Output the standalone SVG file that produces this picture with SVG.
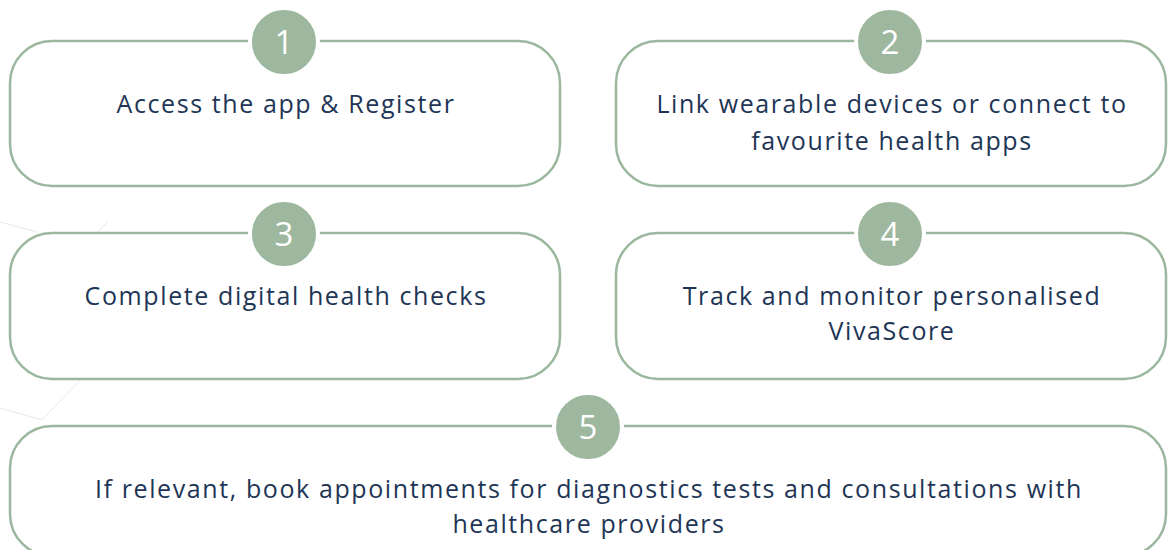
<svg xmlns="http://www.w3.org/2000/svg" width="1170" height="550" viewBox="0 0 1170 550">
<style>
.box{fill:#ffffff;stroke:#9bb89f;stroke-width:2.5}
.badge{fill:#9db89e;stroke:#ffffff;stroke-width:4}
.num{font-family:"Open Sans","Liberation Sans",sans-serif;font-size:33px;fill:#ffffff;text-anchor:middle}
.txt{font-family:"Open Sans","Liberation Sans",sans-serif;font-size:25px;letter-spacing:1.6px;fill:#1e3556;text-anchor:middle}
.bg{fill:none;stroke:#e6e8f4;stroke-width:1}
</style>
<rect width="1170" height="550" fill="#ffffff"/>
<g id="background">
<path class="bg" d="M0 222 L37 232 M108 222 L97 232"/>
<path class="bg" d="M0 408 L42 420 L80 380"/>
</g>
<g id="connectors"></g>
<g id="node1">
<rect class="box" x="10" y="41" width="550" height="145" rx="42"/>
<circle class="badge" cx="284" cy="42" r="34"/>
<text class="num" x="284" y="54">1</text>
<text class="txt" x="286" y="113">Access the app &amp; Register</text>
</g>
<g id="node2">
<rect class="box" x="616" y="41" width="550" height="145" rx="42"/>
<circle class="badge" cx="890" cy="42" r="34"/>
<text class="num" x="890" y="54">2</text>
<text class="txt" x="892" y="113">Link wearable devices or connect to</text>
<text class="txt" x="892" y="150">favourite health apps</text>
</g>
<g id="node3">
<rect class="box" x="10" y="233" width="550" height="146" rx="42"/>
<circle class="badge" cx="284" cy="234" r="34"/>
<text class="num" x="284" y="246">3</text>
<text class="txt" x="286" y="305">Complete digital health checks</text>
</g>
<g id="node4">
<rect class="box" x="616" y="233" width="550" height="146" rx="42"/>
<circle class="badge" cx="890" cy="234" r="34"/>
<text class="num" x="890" y="246">4</text>
<text class="txt" x="892" y="305">Track and monitor personalised</text>
<text class="txt" x="892" y="340">VivaScore</text>
</g>
<g id="node5">
<rect class="box" x="10" y="426" width="1156" height="130" rx="42"/>
<circle class="badge" cx="588" cy="427" r="34"/>
<text class="num" x="588" y="439">5</text>
<text class="txt" x="589" y="498">If relevant, book appointments for diagnostics tests and consultations with</text>
<text class="txt" x="589" y="533">healthcare providers</text>
</g>
</svg>
